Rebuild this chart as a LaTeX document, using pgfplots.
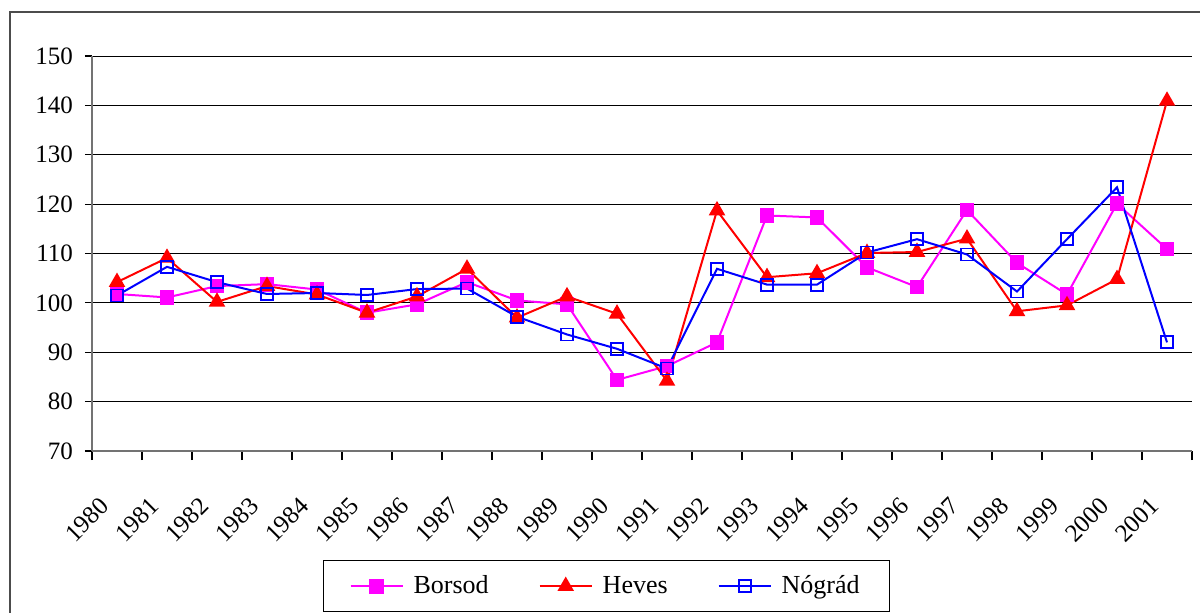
\documentclass[border=0pt]{standalone}
\usepackage{pgfplots}
\pgfplotsset{compat=1.18}
\usepackage{fontspec}
\setmainfont{Liberation Serif}

\definecolor{borsod}{RGB}{255,0,255}
\definecolor{heves}{RGB}{255,0,0}
\definecolor{nograd}{RGB}{0,0,255}

\begin{document}
\begin{tikzpicture}
\useasboundingbox (0,0) rectangle (600pt,306pt);
\begin{scope}
  \clip (0,0) rectangle (600pt,306pt);
  \draw[line width=1pt, black!70] (5pt,300pt) rectangle (640pt,-40pt);
\end{scope}
\begin{axis}[
    scale only axis,
    width=550pt, height=197.5pt,
    at={(46pt,80.5pt)}, anchor=south west,
    xmin=-0.5, xmax=21.5,
    ymin=70, ymax=150,
    xtick={0,...,21},
    xticklabels={1980,1981,1982,1983,1984,1985,1986,1987,1988,1989,1990,1991,1992,1993,1994,1995,1996,1997,1998,1999,2000,2001},
    minor xtick={-0.5,0.5,...,21.5},
    ytick={70,80,...,150},
    axis x line*=bottom, axis y line*=left,
    axis line style={-, black!55, line width=1pt},
    tick align=outside,
    major tick length=3.5pt, minor tick length=4.5pt,
    tick style={black, line width=0.6pt},
    major x tick style={draw=none},
    ymajorgrids,
    major grid style={black, line width=0.5pt},
    /pgf/number format/assume math mode=true,
    tick label style={font=\fontsize{12.5}{14}\selectfont},
    yticklabel style={xshift=-2.5pt},
    xticklabel style={xshift=-3.7pt, yshift=-19.5pt, rotate=45, anchor=east},
    legend columns=3,
    legend image code/.code={\draw[mark repeat=2,mark phase=2,#1] plot coordinates {(0pt,0pt) (13pt,0pt) (26pt,0pt)};},
    legend style={at={(0.21,-0.276)}, anchor=north west, draw=black, line width=0.6pt,
        font=\fontsize{13}{15}\selectfont, inner xsep=13pt, inner ysep=5.5pt,
        /tikz/every odd column/.append style={column sep=3pt},
        /tikz/every even column/.append style={column sep=23pt}},
]
\addplot[borsod, line width=1pt, mark=square*, mark size=3.2pt, mark options={solid}]
  coordinates {(0,101.8) (1,101.1) (2,103.4) (3,103.8) (4,102.7) (5,98.0) (6,99.7) (7,104.2) (8,100.5) (9,99.7) (10,84.4) (11,87.2) (12,92.0) (13,117.7) (14,117.3) (15,107.2) (16,103.2) (17,118.8) (18,108.1) (19,101.7) (20,120.1) (21,110.9)};
\addlegendentry{Borsod}
\addplot[heves, line width=1pt, mark=triangle*, mark size=3.8pt, mark options={solid}]
  coordinates {(0,104.2) (1,109.1) (2,100.2) (3,103.4) (4,101.7) (5,98.0) (6,101.3) (7,106.9) (8,97.0) (9,101.3) (10,97.8) (11,84.2) (12,118.7) (13,105.2) (14,106.0) (15,110.1) (16,110.3) (17,113.0) (18,98.3) (19,99.5) (20,104.8) (21,140.9)};
\addlegendentry{Heves}
\addplot[nograd, line width=1pt, mark=square, mark size=3pt, mark options={solid, line width=0.9pt}]
  coordinates {(0,101.5) (1,107.3) (2,104.2) (3,101.8) (4,102.0) (5,101.6) (6,102.8) (7,102.9) (8,97.2) (9,93.6) (10,90.7) (11,86.7) (12,106.9) (13,103.7) (14,103.7) (15,110.2) (16,112.9) (17,109.8) (18,102.3) (19,112.9) (20,123.4) (21,92.0)};
\addlegendentry{Nógrád}
\end{axis}
\end{tikzpicture}
\end{document}
